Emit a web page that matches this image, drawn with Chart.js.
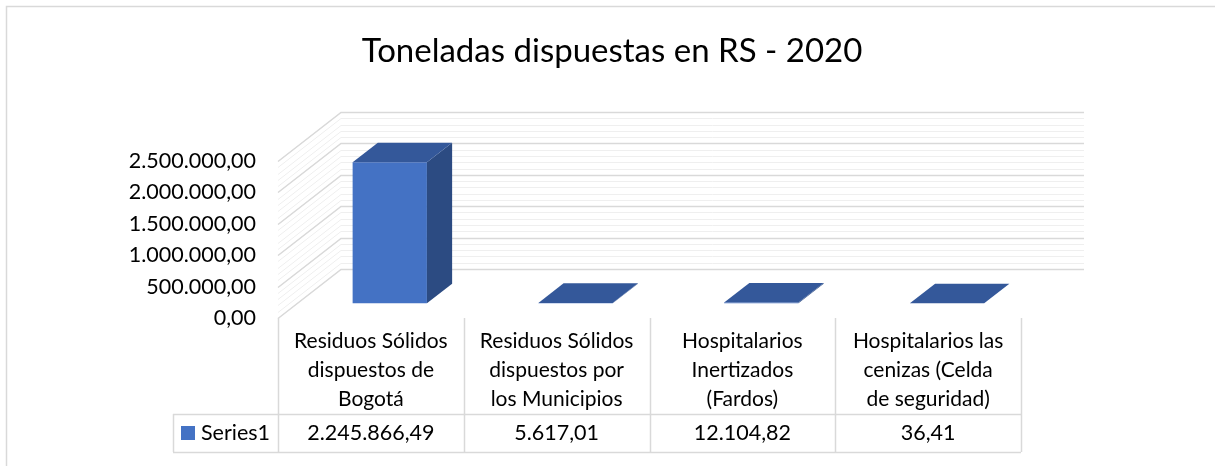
<!DOCTYPE html>
<html><head><meta charset="utf-8">
<script src="https://cdn.jsdelivr.net/npm/chart.js@4.4.1/dist/chart.umd.min.js"></script>
<style>html,body{margin:0;padding:0;background:#fff;}canvas{display:block;}</style>
</head><body>
<canvas id="c" width="1215" height="466"></canvas>
<script>
// ---------- data ----------
const chartTitle = 'Toneladas dispuestas en RS - 2020';
const seriesName = 'Series1';
const categories = [
  ['Residuos Sólidos', 'dispuestos de', 'Bogotá'],
  ['Residuos Sólidos', 'dispuestos por', 'los Municipios'],
  ['Hospitalarios', 'Inertizados', '(Fardos)'],
  ['Hospitalarios las', 'cenizas (Celda', 'de seguridad)']
];
const seriesValues = [2245866.49, 5617.01, 12104.82, 36.41];
const yTickValues = [0, 500000, 1000000, 1500000, 2000000, 2500000];
const yMinorStep = 100000;

// ---------- style ----------
const FONT = "Lato, 'Open Sans', sans-serif";
const WALL = { dx: 63, dy: -49 };
const BAR_FRONT = 0.3, BAR_DEPTH = 0.4;
const COLORS = {
  front: '#4472C4', top: '#34589A', side: '#2C4B82',
  major: '#D9D9D9', minor: '#EFEFEF', table: '#D9D9D9', text: '#000000'
};
const TABLE_ROW_H = 38;
const LEGEND_CELL_W = 105;
const TITLE_POS = { x: 612, y: 51, size: 33 };

function fmtNum(v) {
  const p = Math.abs(v).toFixed(2).split('.');
  return (v < 0 ? '-' : '') + p[0].replace(/\B(?=(\d{3})+(?!\d))/g, '.') + ',' + p[1];
}

Chart.defaults.font.family = FONT;
Chart.defaults.color = COLORS.text;

const threeD = {
  id: 'threeD',
  beforeDraw(chart) {
    const ctx = chart.ctx;
    ctx.save();
    ctx.strokeStyle = '#D9D9D9';
    ctx.lineWidth = 1.5;
    ctx.strokeRect(6.5, 6.5, chart.width + 10, chart.height + 10);
    ctx.fillStyle = COLORS.text;
    ctx.font = TITLE_POS.size + 'px ' + FONT;
    ctx.textAlign = 'center';
    ctx.textBaseline = 'middle';
    ctx.fillText(chartTitle, TITLE_POS.x, TITLE_POS.y);
    ctx.restore();
  },
  beforeDatasetsDraw(chart) {
    const { ctx, scales: { x, y } } = chart;
    const lines = [];
    for (let v = y.min; v <= y.max + 1e-6; v += yMinorStep) lines.push({ v, major: false });
    y.ticks.forEach(t => lines.push({ v: t.value, major: true }));
    lines.sort((a, b) => a.major - b.major);
    ctx.save();
    lines.forEach(l => {
      const py = Math.round(y.getPixelForValue(l.v)) + 0.5;
      ctx.strokeStyle = l.major ? COLORS.major : COLORS.minor;
      ctx.lineWidth = l.major ? 1.5 : 1;
      ctx.beginPath();
      ctx.moveTo(x.left, py);
      ctx.lineTo(x.left + WALL.dx, py + WALL.dy);
      ctx.lineTo(x.right + WALL.dx, py + WALL.dy);
      ctx.stroke();
    });
    ctx.restore();
    ctx.save();
    ctx.translate(WALL.dx * BAR_FRONT, WALL.dy * BAR_FRONT);
  },
  afterDatasetsDraw(chart) {
    const ctx = chart.ctx;
    const ddx = WALL.dx * BAR_DEPTH, ddy = WALL.dy * BAR_DEPTH;
    chart.getDatasetMeta(0).data.forEach(bar => {
      const { x, y, base, width } = bar.getProps(['x', 'y', 'base', 'width'], true);
      const l = x - width / 2, r = x + width / 2;
      ctx.fillStyle = COLORS.side;
      ctx.beginPath();
      ctx.moveTo(r, y); ctx.lineTo(r + ddx, y + ddy); ctx.lineTo(r + ddx, base + ddy); ctx.lineTo(r, base);
      ctx.closePath(); ctx.fill();
      ctx.fillStyle = COLORS.top;
      ctx.beginPath();
      ctx.moveTo(l, y); ctx.lineTo(r, y); ctx.lineTo(r + ddx, y + ddy); ctx.lineTo(l + ddx, y + ddy);
      ctx.closePath(); ctx.fill();
    });
    ctx.restore();
  },
  afterDraw(chart) {
    const { ctx, scales: { x } } = chart;
    const n = categories.length;
    const colW = (x.right - x.left) / n;
    const rowTop = x.bottom, rowBot = x.bottom + TABLE_ROW_H, midY = (rowTop + rowBot) / 2;
    const legL = x.left - LEGEND_CELL_W;
    ctx.save();
    ctx.strokeStyle = COLORS.table;
    ctx.lineWidth = 1.5;
    ctx.beginPath();
    for (let i = 0; i <= n; i++) {
      const px = Math.round(x.left + i * colW) + 0.5;
      ctx.moveTo(px, x.top); ctx.lineTo(px, rowBot);
    }
    ctx.moveTo(legL + 0.5, rowTop); ctx.lineTo(legL + 0.5, rowBot);
    ctx.moveTo(legL, Math.round(rowTop) + 0.5); ctx.lineTo(x.right, Math.round(rowTop) + 0.5);
    ctx.moveTo(legL, Math.round(rowBot) + 0.5); ctx.lineTo(x.right, Math.round(rowBot) + 0.5);
    ctx.stroke();
    ctx.fillStyle = COLORS.front;
    ctx.fillRect(legL + 8, midY - 7, 14, 14);
    ctx.fillStyle = COLORS.text;
    ctx.font = "21.5px " + FONT;
    ctx.textBaseline = 'middle';
    ctx.textAlign = 'left';
    ctx.fillText(seriesName, legL + 28, midY);
    ctx.textAlign = 'center';
    seriesValues.forEach((v, i) => ctx.fillText(fmtNum(v), x.getPixelForTick(i), midY));
    ctx.restore();
  }
};

new Chart(document.getElementById('c'), {
  type: 'bar',
  data: {
    labels: categories,
    datasets: [{
      label: seriesName,
      data: seriesValues,
      backgroundColor: COLORS.front,
      borderWidth: 0,
      categoryPercentage: 1,
      barPercentage: 0.4,
      clip: false
    }]
  },
  options: {
    responsive: false,
    animation: false,
    devicePixelRatio: 1,
    layout: { padding: { left: 6, right: 194, top: 161, bottom: 52 } },
    plugins: {
      legend: { display: false },
      tooltip: { enabled: false },
      title: { display: false }
    },
    scales: {
      x: {
        grid: { display: false, drawTicks: false },
        border: { display: false },
        ticks: { padding: 9, maxRotation: 0, autoSkip: false, font: { size: 21, lineHeight: '29px' }, color: COLORS.text },
        afterFit(s) { s.height = 96; }
      },
      y: {
        min: yTickValues[0],
        max: yTickValues[yTickValues.length - 1],
        grid: { display: false, drawTicks: false },
        border: { display: false },
        ticks: { stepSize: yTickValues[1] - yTickValues[0], padding: 22, font: { size: 21.5 }, color: COLORS.text, callback: v => fmtNum(v) },
        afterFit(s) { s.width = 272; }
      }
    }
  },
  plugins: [threeD]
});
</script>
</body></html>
